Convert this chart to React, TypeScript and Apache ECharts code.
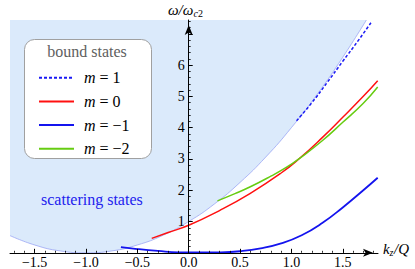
import React, { useEffect, useRef } from "react";
import * as echarts from "echarts";

const SERIF = "Liberation Serif, serif";

const X_MIN = -1.74;
const X_MAX = 1.843;
const Y_MIN = 0;
const Y_MAX = 7.44;

const X_TICKS = [-1.5, -1.0, -0.5, 0, 0.5, 1.0, 1.5];
const Y_TICKS = [0, 1, 2, 3, 4, 5, 6, 7];
const Y_TICK_LABELS = [1, 2, 3, 4, 5, 6];

// boundary of the scattering continuum
const boundaryX = [-1.74, -1.5, -1.25, -1.0, -0.75, -0.5, -0.25, 0, 0.25, 0.5, 0.75, 1.0, 1.25, 1.5, 1.73];
const boundaryY = [0.55, 0.25, 0.06, 0, 0.06, 0.25, 0.56, 1.0, 1.56, 2.25, 3.06, 4.0, 5.06, 6.25, 7.44];

// m = 1 (dashed)
const m1X = [1.05, 1.2, 1.35, 1.5, 1.65, 1.78];
const m1Y = [4.22, 4.8, 5.45, 6.12, 6.78, 7.38];

// m = 0
const m0X = [-0.36, -0.2, 0, 0.3, 0.6, 0.9, 1.08, 1.3, 1.5, 1.7, 1.84];
const m0Y = [0.46, 0.65, 0.88, 1.35, 1.9, 2.55, 3.02, 3.68, 4.33, 5.0, 5.5];

// m = -1
const mm1X = [-0.66, -0.5, -0.3, -0.1, 0.1, 0.3, 0.5, 0.7, 0.9, 1.1, 1.3, 1.5, 1.7, 1.84];
const mm1Y = [0.18, 0.12, 0.06, 0.015, 0.01, 0.015, 0.05, 0.14, 0.3, 0.56, 0.95, 1.45, 2.0, 2.4];

// m = -2
const mm2X = [0.28, 0.45, 0.6, 0.8, 0.95, 1.08, 1.3, 1.5, 1.7, 1.84];
const mm2Y = [1.66, 1.89, 2.11, 2.45, 2.73, 3.02, 3.58, 4.17, 4.78, 5.3];

const NAMES = ["m = 1", "m = 0", "m = \u22121", "m = \u22122"];

const pairs = (xs: number[], ys: number[]) => xs.map((x, i) => [x, ys[i]]);

const minorTicks = (lo: number, hi: number, step: number) => {
  const out: number[] = [];
  for (let k = Math.ceil(lo / step - 1e-9); k * step <= hi + 1e-9; k++) {
    out.push(+(k * step).toFixed(4));
  }
  return out;
};

const GRID_LEFT = 10;
const GRID_RIGHT = 37;
const GRID_TOP = 20;
const GRID_BOTTOM = 16.2;
const W = 415;
const H = 269;

export default function App() {
  const ref = useRef<HTMLDivElement>(null);

  useEffect(() => {
    if (!ref.current) return;
    const chart = echarts.init(ref.current, undefined, { renderer: "svg" });

    const gridW = W - GRID_LEFT - GRID_RIGHT;
    const zeroPx = GRID_LEFT + ((0 - X_MIN) / (X_MAX - X_MIN)) * gridW;

    const lineSeries = (name: string, data: number[][], color: string, width: number, type: any = "solid") => ({
      name,
      type: "line",
      data,
      smooth: true,
      symbol: "none",
      showSymbol: false,
      xAxisIndex: 0,
      yAxisIndex: 0,
      z: 2,
      lineStyle: { color, width, type },
      itemStyle: { color },
    });

    const option: any = {
      animation: false,
      grid: {
        left: GRID_LEFT,
        right: GRID_RIGHT,
        top: GRID_TOP,
        bottom: GRID_BOTTOM,
        containLabel: false,
        outerBoundsMode: "none",
      },
      xAxis: [
        {
          type: "value",
          min: X_MIN,
          max: X_MAX,
          position: "bottom",
          z: 10,
          axisLine: {
            show: true,
            onZero: false,
            symbol: ["none", "arrow"],
            symbolSize: [6, 10],
            symbolOffset: [0, -5],
            lineStyle: { color: "#000", width: 1 },
          },
          axisTick: {
            show: true,
            inside: true,
            length: 4,
            customValues: X_TICKS,
            lineStyle: { color: "#000", width: 1 },
          },
          axisLabel: {
            show: true,
            customValues: X_TICKS,
            margin: 3,
            color: "#000",
            fontSize: 14,
            fontFamily: SERIF,
            formatter: (v: number) => (v < 0 ? "\u2212" : "") + Math.abs(v).toFixed(1),
          },
          splitLine: { show: false },
          minorTick: { show: false },
        },
        {
          type: "value",
          min: X_MIN,
          max: X_MAX,
          position: "bottom",
          offset: 0,
          z: 10,
          axisLine: { show: false, onZero: false },
          axisTick: {
            show: true,
            inside: true,
            length: 2,
            customValues: minorTicks(X_MIN, X_MAX, 0.1),
            lineStyle: { color: "#000", width: 0.8 },
          },
          axisLabel: { show: false },
          splitLine: { show: false },
        },
      ],
      yAxis: [
        {
          type: "value",
          min: Y_MIN,
          max: Y_MAX,
          interval: 1,
          position: "left",
          offset: -(zeroPx - GRID_LEFT),
          z: 10,
          axisLine: {
            show: true,
            onZero: false,
            symbol: ["none", "arrow"],
            symbolSize: [6, 10],
            symbolOffset: [0, -5],
            lineStyle: { color: "#000", width: 1 },
          },
          axisTick: {
            show: true,
            inside: true,
            length: 4,
            customValues: Y_TICKS,
            lineStyle: { color: "#000", width: 1 },
          },
          axisLabel: {
            show: true,
            customValues: Y_TICK_LABELS,
            margin: 4,
            color: "#000",
            fontSize: 14,
            fontFamily: SERIF,
          },
          splitLine: { show: false },
        },
        {
          type: "value",
          min: Y_MIN,
          max: Y_MAX,
          position: "right",
          offset: zeroPx - (GRID_LEFT + gridW),
          z: 10,
          axisLine: { show: false, onZero: false },
          axisTick: {
            show: true,
            inside: false,
            length: 2,
            customValues: minorTicks(Y_MIN, Y_MAX, 0.2),
            lineStyle: { color: "#000", width: 0.8 },
          },
          axisLabel: { show: false },
          splitLine: { show: false },
        },
      ],
      legend: {
        show: true,
        data: NAMES,
        orient: "vertical",
        left: 33,
        top: 64.7,
        padding: 5,
        itemWidth: 35,
        itemHeight: 14,
        itemGap: 7.7,
        z: 4,
        selectedMode: false,
        itemStyle: { opacity: 0 },
        textStyle: {
          color: "#000",
          fontSize: 16,
          fontFamily: SERIF,
          lineHeight: 14,
          rich: {
            s: { width: 5, fontSize: 16, fontFamily: SERIF },
            i: { fontStyle: "italic", fontSize: 16, fontFamily: SERIF, color: "#000" },
            t: { fontSize: 16, fontFamily: SERIF, color: "#000" },
          },
        },
        formatter: (name: string) => "{s| }{i|m}{t|" + name.slice(1) + "}",
      },
      series: [
        {
          name: "boundary",
          type: "line",
          data: pairs(boundaryX, boundaryY),
          smooth: true,
          symbol: "none",
          showSymbol: false,
          silent: true,
          z: 1,
          lineStyle: { color: "#9ba6f4", width: 0.8 },
          areaStyle: { origin: "end", color: "#dbeafb", opacity: 1 },
        },
        lineSeries(NAMES[0], pairs(m1X, m1Y), "#1a1af5", 1.5, [3, 2]),
        lineSeries(NAMES[1], pairs(m0X, m0Y), "#ff1010", 1.5),
        lineSeries(NAMES[2], pairs(mm1X, mm1Y), "#1414ee", 1.8),
        lineSeries(NAMES[3], pairs(mm2X, mm2Y), "#66cc11", 1.5),
      ],
      graphic: [
        {
          type: "rect",
          z: 3,
          shape: { x: 24.5, y: 39.5, width: 127, height: 119, r: 10 },
          style: { fill: "#ffffff", stroke: "#a0a0a0", lineWidth: 1 },
        },
        {
          type: "text",
          z: 5,
          x: 87,
          y: 51,
          style: {
            text: "bound states",
            font: `16px ${SERIF}`,
            fill: "#606060",
            align: "center",
            verticalAlign: "middle",
            textAlign: "center",
            textVerticalAlign: "middle",
          },
        },
        {
          type: "text",
          z: 5,
          x: 41,
          y: 199.5,
          style: {
            text: "scattering states",
            font: `16px ${SERIF}`,
            fill: "#2222ee",
            verticalAlign: "middle",
            textVerticalAlign: "middle",
          },
        },
        {
          type: "text",
          z: 5,
          x: 168,
          y: 9.5,
          style: {
            text: "\u03c9/\u03c9",
            font: `italic 15px ${SERIF}`,
            fill: "#000",
            verticalAlign: "middle",
            textVerticalAlign: "middle",
          },
        },
        {
          type: "text",
          z: 5,
          x: 193.5,
          y: 13.5,
          style: {
            text: "{i|c}2",
            font: `10px ${SERIF}`,
            rich: { i: { font: `italic 10px ${SERIF}` } },
            fill: "#000",
            verticalAlign: "middle",
            textVerticalAlign: "middle",
          },
        },
        {
          type: "text",
          z: 5,
          x: 383,
          y: 248.5,
          style: {
            text: "k",
            font: `italic 15px ${SERIF}`,
            fill: "#000",
            verticalAlign: "middle",
            textVerticalAlign: "middle",
          },
        },
        {
          type: "text",
          z: 5,
          x: 389.5,
          y: 252,
          style: {
            text: "z",
            font: `italic 10px ${SERIF}`,
            fill: "#000",
            verticalAlign: "middle",
            textVerticalAlign: "middle",
          },
        },
        {
          type: "text",
          z: 5,
          x: 394,
          y: 248.5,
          style: {
            text: "/Q",
            font: `italic 15px ${SERIF}`,
            fill: "#000",
            verticalAlign: "middle",
            textVerticalAlign: "middle",
          },
        },
      ],
    };

    chart.setOption(option);
    return () => chart.dispose();
  }, []);

  return <div ref={ref} style={{ width: W, height: H, position: "absolute", left: 0, top: 0 }} />;
}
